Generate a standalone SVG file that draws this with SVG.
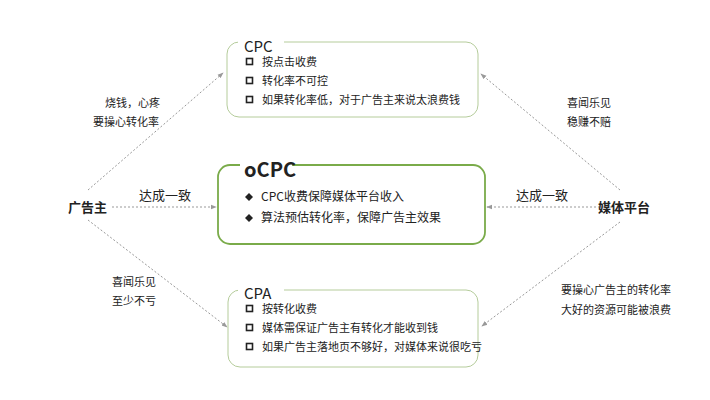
<svg xmlns="http://www.w3.org/2000/svg" width="710" height="400" viewBox="0 0 710 400">
<style>
text{font-family:"Noto Sans CJK SC","Liberation Sans",sans-serif;fill:#222}
.s{font-size:11px}.b{font-size:12px}
.box{fill:#fff;stroke:#b5cc9b;stroke-width:1}
.c{stroke:#999;stroke-width:1;stroke-dasharray:2 2;fill:none;marker-end:url(#a)}
.sq{fill:#fff;stroke:#222;stroke-width:1.6}
</style>
<defs><marker id="a" viewBox="0 0 8 8" refX="7" refY="4" markerWidth="6" markerHeight="6" orient="auto"><path d="M0,1 L8,4 L0,7z" fill="#999"/></marker></defs>
<rect width="710" height="400" fill="#fff"/>
<g id="connectors">
<path class="c" d="M88,190 L223,73"/>
<path class="c" d="M112,207 L216,207"/>
<path class="c" d="M88,220 L227,327"/>
<path class="c" d="M620,190 L481,74"/>
<path class="c" d="M612,207 L487,207"/>
<path class="c" d="M620,222 L482,326"/>
<text class="s" x="105" y="107">烧钱，心疼</text>
<text class="s" x="93" y="126">要操心转化率</text>
<text x="139" y="200" font-size="13">达成一致</text>
<text class="s" x="112" y="286">喜闻乐见</text>
<text class="s" x="112" y="305">至少不亏</text>
<text class="s" x="567" y="107">喜闻乐见</text>
<text class="s" x="567" y="126">稳赚不赔</text>
<text x="516" y="200" font-size="13">达成一致</text>
<text class="s" x="561" y="294">要操心广告主的转化率</text>
<text class="s" x="561" y="314">大好的资源可能被浪费</text>
</g>
<g id="adv"><text x="68" y="212" font-size="13" font-weight="bold">广告主</text></g>
<g id="media"><text x="598" y="212" font-size="13" font-weight="bold">媒体平台</text></g>
<g id="cpc">
<rect class="box" x="227" y="42" width="251" height="75" rx="12"/>
<rect x="238" y="36" width="46" height="12" fill="#fff"/>
<text x="244" y="52" font-size="15" font-family="Liberation Sans,sans-serif">CPC</text>
<rect class="sq" x="246.5" y="58.5" width="6" height="6"/><text class="s" x="262" y="66">按点击收费</text>
<rect class="sq" x="246.5" y="77.5" width="6" height="6"/><text class="s" x="262" y="85">转化率不可控</text>
<rect class="sq" x="246.5" y="96.5" width="6" height="6"/><text class="s" x="262" y="104">如果转化率低，对于广告主来说太浪费钱</text>
</g>
<g id="ocpc">
<rect x="218" y="165" width="267" height="79" rx="12" fill="#fff" stroke="#7aab4a" stroke-width="1.8"/>
<rect x="240" y="158" width="52" height="14" fill="#fff"/>
<text x="244" y="177" font-size="20" font-weight="bold" font-family="Liberation Sans,sans-serif">oCPC</text>
<path d="M249,193 L253,197 L249,201 L245,197z" fill="#222"/><text class="b" x="261" y="201">CPC收费保障媒体平台收入</text>
<path d="M249,214 L253,218 L249,222 L245,218z" fill="#222"/><text class="b" x="261" y="222">算法预估转化率，保障广告主效果</text>
</g>
<g id="cpa">
<rect class="box" x="228" y="290" width="250" height="77" rx="12"/>
<rect x="238" y="283" width="46" height="12" fill="#fff"/>
<text x="244" y="299" font-size="15" font-family="Liberation Sans,sans-serif">CPA</text>
<rect class="sq" x="246.5" y="305.5" width="6" height="6"/><text class="s" x="262" y="313">按转化收费</text>
<rect class="sq" x="246.5" y="324.5" width="6" height="6"/><text class="s" x="262" y="332">媒体需保证广告主有转化才能收到钱</text>
<rect class="sq" x="246.5" y="343.5" width="6" height="6"/><text class="s" x="262" y="351">如果广告主落地页不够好，对媒体来说很吃亏</text>
</g>
</svg>
